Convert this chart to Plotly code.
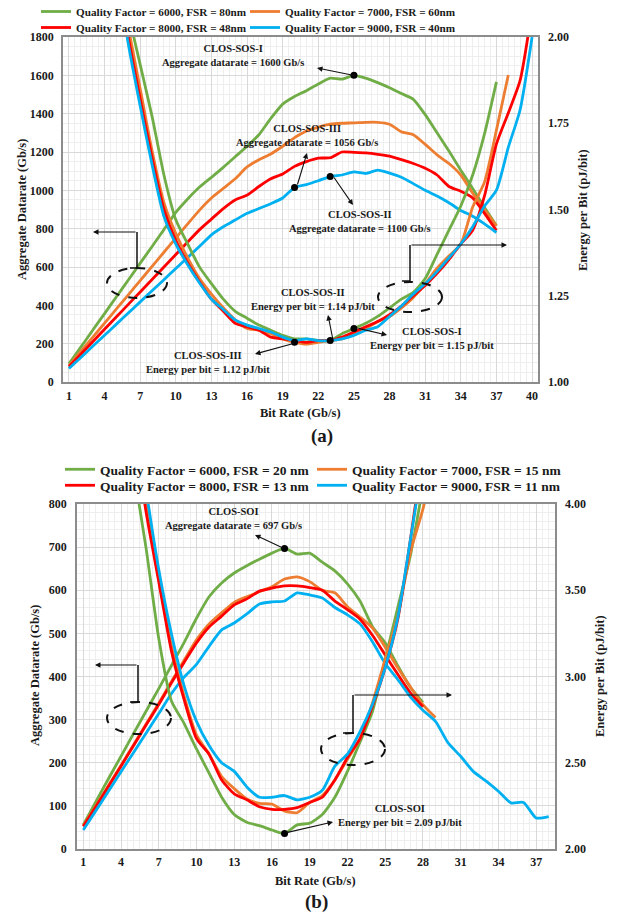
import plotly.graph_objects as go

# ---------------- data ----------------
bitrate_a = list(range(1, 38))
dr_a_q6000 = [95, 182, 270, 357, 445, 532, 620, 707, 795, 885, 955, 1017, 1068, 1120, 1175, 1230, 1290, 1375,
              1450, 1490, 1520, 1555, 1585, 1580, 1600, 1585, 1562, 1535, 1505, 1475, 1395, 1300, 1205, 1105,
              1010, 910, 815]
dr_a_q7000 = [85, 159, 233, 307, 381, 455, 529, 603, 677, 751, 825, 897, 960, 1010, 1060, 1122, 1160, 1190,
              1230, 1275, 1310, 1330, 1345, 1350, 1352, 1355, 1355, 1345, 1305, 1290, 1240, 1185, 1140, 1080,
              985, 900, 815]
dr_a_q8000 = [80, 145, 210, 275, 340, 405, 470, 535, 600, 665, 730, 795, 850, 905, 950, 975, 1020, 1060,
              1085, 1125, 1150, 1168, 1170, 1200, 1198, 1195, 1188, 1178, 1160, 1140, 1115, 1080, 1020, 995,
              960, 880, 790]
dr_a_q9000 = [70, 128, 186, 244, 302, 360, 418, 476, 534, 592, 650, 708, 768, 810, 845, 880, 905, 930,
              960, 1015, 1030, 1050, 1072, 1080, 1096, 1088, 1105, 1090, 1068, 1035, 1000, 970, 935, 895,
              865, 825, 780]

ep_a_x_q6000 = list(range(5, 38))
ep_a_q6000 = [2.25, 2.07, 1.92, 1.77, 1.60, 1.47, 1.40, 1.333, 1.285, 1.24, 1.205, 1.185, 1.165, 1.15, 1.135,
              1.125, 1.125, 1.12, 1.12, 1.14, 1.155, 1.17, 1.19, 1.215, 1.24, 1.26, 1.30, 1.37, 1.44, 1.51,
              1.60, 1.72, 1.87]
ep_a_x_q7000 = list(range(5, 39))
ep_a_q7000 = [2.25, 2.03, 1.85, 1.67, 1.52, 1.43, 1.36, 1.30, 1.255, 1.215, 1.18, 1.155, 1.15, 1.14, 1.125,
              1.115, 1.11, 1.115, 1.12, 1.125, 1.14, 1.155, 1.175, 1.19, 1.215, 1.245, 1.285, 1.33, 1.365,
              1.40, 1.507, 1.58, 1.73, 1.89]
ep_a_x_q8000 = list(range(5, 41))
ep_a_q8000 = [2.22, 2.00, 1.82, 1.65, 1.50, 1.41, 1.345, 1.29, 1.24, 1.205, 1.17, 1.16, 1.15, 1.13, 1.125,
              1.12, 1.115, 1.12, 1.12, 1.13, 1.145, 1.16, 1.175, 1.195, 1.22, 1.25, 1.28, 1.315, 1.355, 1.40,
              1.44, 1.54, 1.69, 1.78, 1.875, 2.08]
ep_a_x_q9000 = list(range(5, 41))
ep_a_q9000 = [2.20, 1.98, 1.80, 1.63, 1.48, 1.40, 1.34, 1.287, 1.24, 1.21, 1.18, 1.165, 1.155, 1.145, 1.13,
              1.12, 1.125, 1.12, 1.12, 1.125, 1.135, 1.15, 1.16, 1.19, 1.22, 1.255, 1.285, 1.32, 1.36, 1.40,
              1.45, 1.51, 1.556, 1.68, 1.79, 2.0]

dr_b_x_q6000 = list(range(1, 29))
dr_b_q6000 = [56, 110, 163, 215, 268, 320, 372, 425, 478, 535, 585, 617, 640, 657, 672, 686, 697, 684, 686,
              665, 645, 615, 575, 515, 478, 425, 375, 340]
dr_b_x_q7000 = list(range(1, 30))
dr_b_q7000 = [54, 100, 147, 194, 242, 290, 338, 388, 437, 485, 522, 548, 572, 585, 597, 608, 626, 631, 620,
              600, 594, 562, 538, 512, 468, 420, 376, 335, 305]
dr_b_x_q8000 = list(range(1, 29))
dr_b_q8000 = [52, 98, 145, 192, 240, 288, 335, 385, 432, 478, 515, 540, 566, 580, 598, 605, 610, 610, 606,
              600, 575, 555, 533, 495, 450, 405, 362, 330]
dr_b_x_q9000 = list(range(1, 39))
dr_b_q9000 = [44, 89, 134, 179, 224, 269, 314, 360, 398, 428, 470, 508, 524, 545, 568, 573, 575, 594, 589,
              582, 560, 543, 522, 480, 430, 393, 353, 322, 296, 246, 215, 180, 158, 134, 107, 108, 72, 75]

ep_b_x_q6000 = list(range(5, 29))
ep_b_q6000 = [4.2, 3.74, 3.22, 2.86, 2.73, 2.58, 2.44, 2.30, 2.20, 2.155, 2.135, 2.11, 2.09, 2.14, 2.15, 2.20,
              2.30, 2.45, 2.62, 2.80, 3.10, 3.40, 3.70, 4.10]
ep_b_x_q7000 = list(range(5, 30))
ep_b_q7000 = [4.5, 4.0, 3.57, 3.18, 2.89, 2.66, 2.55, 2.42, 2.35, 2.29, 2.265, 2.26, 2.22, 2.21, 2.27, 2.31,
              2.40, 2.52, 2.64, 2.85, 3.10, 3.35, 3.72, 3.97, 4.3]
ep_b_x_q8000 = list(range(5, 29))
ep_b_q8000 = [4.45, 3.95, 3.55, 3.15, 2.87, 2.64, 2.55, 2.40, 2.32, 2.285, 2.245, 2.23, 2.23, 2.24, 2.27, 2.30,
              2.40, 2.53, 2.64, 2.83, 3.05, 3.33, 3.79, 4.3]
ep_b_x_q9000 = list(range(5, 29))
ep_b_q9000 = [4.6, 4.08, 3.62, 3.25, 2.95, 2.74, 2.60, 2.50, 2.45, 2.36, 2.30, 2.30, 2.31, 2.285, 2.30, 2.34,
              2.48, 2.55, 2.68, 2.84, 3.05, 3.34, 3.79, 4.25]

names_a = ["Quality Factor = 6000, FSR = 80nm", "Quality Factor = 7000, FSR = 60nm",
           "Quality Factor = 8000, FSR = 48nm", "Quality Factor = 9000, FSR = 40nm"]
names_b = ["Quality Factor = 6000, FSR = 20 nm", "Quality Factor = 7000, FSR = 15 nm",
           "Quality Factor = 8000, FSR = 13 nm", "Quality Factor = 9000, FSR = 11 nm"]

# ---------------- layout helpers ----------------
W_FIG, H_FIG = 624, 917
ML, MR = 20, 20
PW = W_FIG - ML - MR


def px(x):
    return (x - ML) / PW


def py(y):
    return 1 - y / H_FIG


FONT = "Liberation Serif"
TXT = "#1a1a1a"
COLORS = ["#70AD47", "#ED7D31", "#FF0000", "#00B0F0"]
LW = 2.8

fig = go.Figure()

dr_a = [dr_a_q6000, dr_a_q7000, dr_a_q8000, dr_a_q9000]
ep_a = [(ep_a_x_q6000, ep_a_q6000), (ep_a_x_q7000, ep_a_q7000), (ep_a_x_q8000, ep_a_q8000),
        (ep_a_x_q9000, ep_a_q9000)]
dr_b = [(dr_b_x_q6000, dr_b_q6000), (dr_b_x_q7000, dr_b_q7000), (dr_b_x_q8000, dr_b_q8000),
        (dr_b_x_q9000, dr_b_q9000)]
ep_b = [(ep_b_x_q6000, ep_b_q6000), (ep_b_x_q7000, ep_b_q7000), (ep_b_x_q8000, ep_b_q8000),
        (ep_b_x_q9000, ep_b_q9000)]

legend_a = ["legend", "legend2", "legend3", "legend4"]
legend_b = ["legend5", "legend6", "legend7", "legend8"]

for i in range(4):
    fig.add_trace(go.Scatter(x=bitrate_a, y=dr_a[i], name=names_a[i], mode="lines",
                             line=dict(color=COLORS[i], width=LW, shape="spline", smoothing=0.6),
                             xaxis="x", yaxis="y", legend=legend_a[i], showlegend=True))
for i in range(4):
    fig.add_trace(go.Scatter(x=ep_a[i][0], y=ep_a[i][1], name=names_a[i], mode="lines",
                             line=dict(color=COLORS[i], width=LW, shape="spline", smoothing=0.6),
                             xaxis="x", yaxis="y2", showlegend=False))
for i in range(4):
    fig.add_trace(go.Scatter(x=dr_b[i][0], y=dr_b[i][1], name=names_b[i], mode="lines",
                             line=dict(color=COLORS[i], width=LW, shape="spline", smoothing=0.6),
                             xaxis="x2", yaxis="y3", legend=legend_b[i], showlegend=True))
for i in range(4):
    fig.add_trace(go.Scatter(x=ep_b[i][0], y=ep_b[i][1], name=names_b[i], mode="lines",
                             line=dict(color=COLORS[i], width=LW, shape="spline", smoothing=0.6),
                             xaxis="x2", yaxis="y4", showlegend=False))

# annotation dots (taken from the data)
dot = dict(color="#000", size=7)
dots = [
    ("x", "y", bitrate_a[24], dr_a_q6000[24]),
    ("x", "y", bitrate_a[19], dr_a_q9000[19]),
    ("x", "y", bitrate_a[22], dr_a_q9000[22]),
    ("x", "y2", ep_a_x_q8000[18], ep_a_q8000[18]),
    ("x", "y2", ep_a_x_q7000[15], ep_a_q7000[15]),
    ("x", "y2", ep_a_x_q6000[20], ep_a_q6000[20]),
    ("x2", "y3", dr_b_x_q6000[16], dr_b_q6000[16]),
    ("x2", "y4", ep_b_x_q6000[12], ep_b_q6000[12]),
]
for xa, ya, xv, yv in dots:
    fig.add_trace(go.Scatter(x=[xv], y=[yv], mode="markers", marker=dot, xaxis=xa, yaxis=ya,
                             showlegend=False, hoverinfo="skip"))

tickfont = dict(family=FONT, size=12, color=TXT, weight="bold")
grid_major = "#d9d9d9"
grid_minor = "#eeeeee"
axline = "#8c8c8c"


def leg(x, y, size):
    return dict(orientation="h", x=px(x), y=py(y), xanchor="left", yanchor="top",
                itemwidth=30, font=dict(family=FONT, size=size, color=TXT, weight="bold"),
                bgcolor="rgba(0,0,0,0)")


fig.update_layout(
    width=W_FIG, height=H_FIG,
    margin=dict(l=ML, r=MR, t=0, b=0, autoexpand=False),
    paper_bgcolor="white", plot_bgcolor="white",
    font=dict(family=FONT, color=TXT),
    xaxis=dict(domain=[px(63), px(538)], anchor="y", range=[0.5, 40.5], tick0=1, dtick=3,
               showgrid=True, gridcolor=grid_major, zeroline=False, showline=True, mirror=True,
               linecolor=axline, linewidth=1.5, ticks="", tickfont=tickfont, ticklabelstandoff=2,
               minor=dict(tick0=1, dtick=0.5, showgrid=True, gridcolor=grid_minor), automargin=False),
    yaxis=dict(domain=[py(382), py(37)], anchor="x", range=[0, 1800], dtick=200, showgrid=True,
               gridcolor=grid_major, zeroline=False, showline=True, mirror=True, linecolor=axline,
               linewidth=1.5, ticks="", tickfont=tickfont, ticklabelstandoff=5,
               minor=dict(dtick=50, showgrid=True, gridcolor=grid_minor), automargin=False),
    yaxis2=dict(overlaying="y", anchor="x", side="right", range=[1.0, 2.0], dtick=0.25, tickformat=".2f",
                showgrid=False, zeroline=False, ticks="", tickfont=tickfont, ticklabelstandoff=9,
                automargin=False),
    xaxis2=dict(domain=[px(77), px(555)], anchor="y3", range=[0.5, 38.5], tick0=1, dtick=3,
                showgrid=True, gridcolor=grid_major, zeroline=False, showline=True, mirror=True,
                linecolor=axline, linewidth=1.5, ticks="", tickfont=tickfont, ticklabelstandoff=1,
                minor=dict(tick0=1, dtick=0.5, showgrid=True, gridcolor=grid_minor), automargin=False),
    yaxis3=dict(domain=[py(849), py(504)], anchor="x2", range=[0, 800], dtick=100, showgrid=True,
                gridcolor=grid_major, zeroline=False, showline=True, mirror=True, linecolor=axline,
                linewidth=1.5, ticks="", tickfont=tickfont, ticklabelstandoff=6,
                minor=dict(dtick=20, showgrid=True, gridcolor=grid_minor), automargin=False),
    yaxis4=dict(overlaying="y3", anchor="x2", side="right", range=[2.0, 4.0], dtick=0.5, tickformat=".2f",
                showgrid=False, zeroline=False, ticks="", tickfont=tickfont, ticklabelstandoff=9,
                automargin=False),
    legend=leg(36, -3, 11.2),
    legend2=leg(245, -3, 11.2),
    legend3=leg(36, 13, 11.2),
    legend4=leg(245, 13, 11.2),
    legend5=leg(60, 454, 13.5),
    legend6=leg(312, 454, 13.5),
    legend7=leg(60, 470, 13.5),
    legend8=leg(312, 470, 13.5),
)

ann = []


def ptext(x, y, text, size=12.5, angle=0):
    ann.append(dict(xref="paper", yref="paper", x=px(x), y=py(y), text=text, showarrow=False,
                    textangle=angle, xanchor="center", yanchor="middle",
                    font=dict(family=FONT, size=size, color=TXT, weight="bold")))


# axis titles
ptext(22, 210, "Aggregate Datarate (Gb/s)", angle=-90)
ptext(583, 210, "Energy per Bit (pJ/bit)", angle=-90)
ptext(300, 413, "Bit Rate (Gb/s)")
ptext(35, 676, "Aggregate Datarate (Gb/s)", angle=-90)
ptext(600, 676, "Energy per Bit (pJ/bit)", angle=-90)
ptext(315, 881, "Bit Rate (Gb/s)")
ptext(322, 436, "(a)", size=19)
ptext(316, 902, "(b)", size=19)

# callout texts
ptext(233, 55.5, "CLOS-SOS-I<br>Aggregate datarate = 1600 Gb/s", size=10.5)
ptext(307, 135.5, "CLOS-SOS-III<br>Aggregate datarate = 1056 Gb/s", size=10.5)
ptext(360, 221, "CLOS-SOS-II<br>Aggregate datarate = 1100 Gb/s", size=10.5)
ptext(313, 299.5, "CLOS-SOS-II<br>Energy per bit = 1.14 pJ/bit", size=10.5)
ptext(208, 362.5, "CLOS-SOS-III<br>Energy per bit = 1.12 pJ/bit", size=10.5)
ptext(432, 338, "CLOS-SOS-I<br>Energy per bit = 1.15 pJ/bit", size=10.5)
ptext(233, 518.5, "CLOS-SOI<br>Aggregate datarate = 697 Gb/s", size=10.5)
ptext(400, 815, "CLOS-SOI<br>Energy per bit = 2.09 pJ/bit", size=10.5)


# arrows from dots to texts (pixel geometry)
def parrow(tail, head):
    ann.append(dict(xref="paper", yref="paper", x=px(head[0]), y=py(head[1]), text="",
                    showarrow=True, axref="pixel", ayref="pixel",
                    ax=tail[0] - head[0], ay=tail[1] - head[1],
                    arrowhead=2, arrowsize=1, arrowwidth=1.1, arrowcolor="#111", standoff=0, startstandoff=0))


parrow((357, 76), (317, 68))
parrow((297, 186), (307, 153))
parrow((333, 176), (353, 205))
parrow((333, 340), (328, 315))
parrow((295, 343), (255, 354))
parrow((357, 328), (387, 335))
parrow((285, 549), (255, 535))
parrow((285, 833), (333, 822))

# bracket arrows
parrow((137, 232), (93, 232))
parrow((410, 245), (507, 245))
parrow((138, 665), (95, 665))
parrow((353, 695), (452, 695))

shapes = []


def ppath(pts):
    d = "M " + " L ".join(f"{px(a):.5f},{py(b):.5f}" for a, b in pts)
    shapes.append(dict(type="path", xref="paper", yref="paper", path=d,
                       line=dict(color="#111", width=1.5)))


ppath([(130, 268), (137, 268), (137, 232)])
ppath([(402, 281), (410, 281), (410, 245)])
ppath([(130, 702), (138, 702), (138, 665)])
ppath([(343, 733), (353, 733), (353, 695)])


def ellipse(cx, cy, rx, ry):
    shapes.append(dict(type="circle", xref="paper", yref="paper", x0=px(cx - rx), x1=px(cx + rx),
                       y0=py(cy + ry), y1=py(cy - ry), line=dict(color="#111", width=2, dash="dash")))


ellipse(137, 283, 30, 15)
ellipse(410, 297, 32, 15)
ellipse(139, 718, 32, 16)
ellipse(353, 749, 32, 16)

fig.update_layout(annotations=ann, shapes=shapes)

fig.write_html("out.html", config={"displayModeBar": False},
               post_script="document.body.style.margin='0px';")
